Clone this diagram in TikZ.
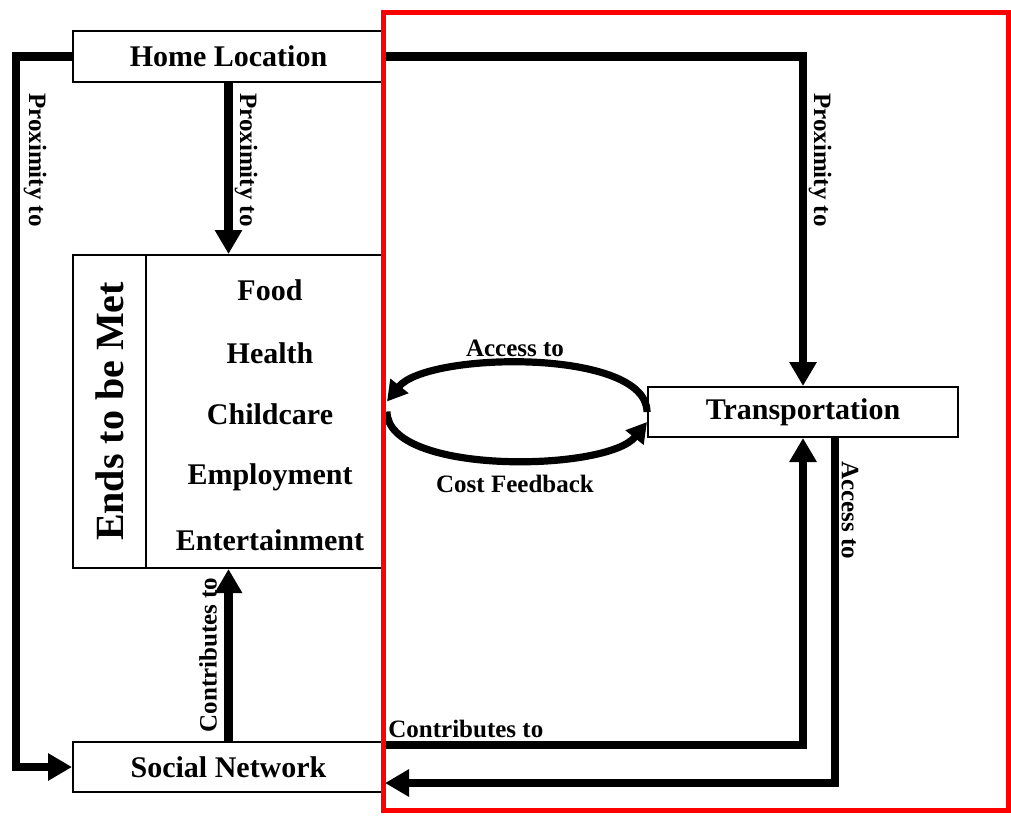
\documentclass[tikz,border=0pt]{standalone}
\usepackage{fontspec}
\setmainfont{Liberation Serif}
\usetikzlibrary{arrows.meta}

\tikzset{
  box/.style={draw, line width=1pt, fill=white, inner sep=0pt,
              font=\bfseries\fontsize{15}{17}\selectfont},
  flow/.style={line width=4.25pt, -{Triangle[length=12pt,width=13pt]}},
  loopflow/.style={line width=3.6pt, -{Triangle[length=10pt,width=11pt]}},
  lbl/.style={inner sep=0pt, font=\bfseries\fontsize{12.5}{14}\selectfont},
  item/.style={inner sep=0pt, font=\bfseries\fontsize{15}{17}\selectfont}
}

\begin{document}
\begin{tikzpicture}[x=0.5pt,y=-0.5pt]
\useasboundingbox (0,0) rectangle (1011,815);

% boxes
\node[box, minimum width=155.5pt, minimum height=25.5pt] (home) at (228.5,56.5) {Home Location};
\node[box, minimum width=155.5pt, minimum height=156.5pt] (ends) at (228.5,411.5) {};
\node[box, minimum width=155pt, minimum height=25pt] (trans) at (803,412) {Transportation};
\node[box, minimum width=155.5pt, minimum height=25pt] (social) at (228.5,767) {Social Network};

% inside the ends box
\draw[line width=1pt] ([xshift=37pt]ends.north west) -- ([xshift=37pt]ends.south west);
\node[inner sep=0pt, rotate=90, font=\bfseries\fontsize{20}{22}\selectfont] (endstitle) at (110,411.5) {Ends to be Met};
\node[item] (food)  at (270,290) {Food};
\node[item] (health) at (270,353) {Health};
\node[item] (child) at (270,414) {Childcare};
\node[item] (employ) at (270,477) {Employment};
\node[item] (enter) at (270,540) {Entertainment};

% connectors
\draw[flow] (home.west) -- ++(-56,0) |- (social.west);
\draw[flow] (home.south) -- (ends.north);
\draw[flow] (home.east) -| (trans.north);
\draw[flow] (social.north) -- (ends.south);
\draw[flow] ([yshift=11pt]social.east) -| (trans.south);
\draw[flow] ([xshift=16pt]trans.south) |- ([yshift=-8pt]social.east);

% loop between ends and transportation
\draw[loopflow] (trans.west) .. controls +(0,-64) and +(40,-50) .. ([xshift=1pt,yshift=5pt]ends.east);
\draw[loopflow] ([xshift=1pt]ends.east) .. controls +(0,64) and +(-40,50) .. ([yshift=-5pt]trans.west);

% labels
\node[lbl, rotate=-90] (proxleft) at (35,160) {Proximity to};
\node[lbl, rotate=-90] (proxmid) at (246,160) {Proximity to};
\node[lbl, rotate=-90] (proxright) at (820,160) {Proximity to};
\node[lbl, rotate=-90] (accdown) at (850,510) {Access to};
\node[lbl, rotate=90] (contup) at (208,655) {Contributes to};
\node[lbl, anchor=west] (contright) at (388,729) {Contributes to};
\node[lbl] (accloop) at (515,348) {Access to};
\node[lbl] (costloop) at (515,484) {Cost Feedback};

% red frame
\draw[red, line width=2.5pt] (383,12) rectangle (1008,810);

\end{tikzpicture}
\end{document}
